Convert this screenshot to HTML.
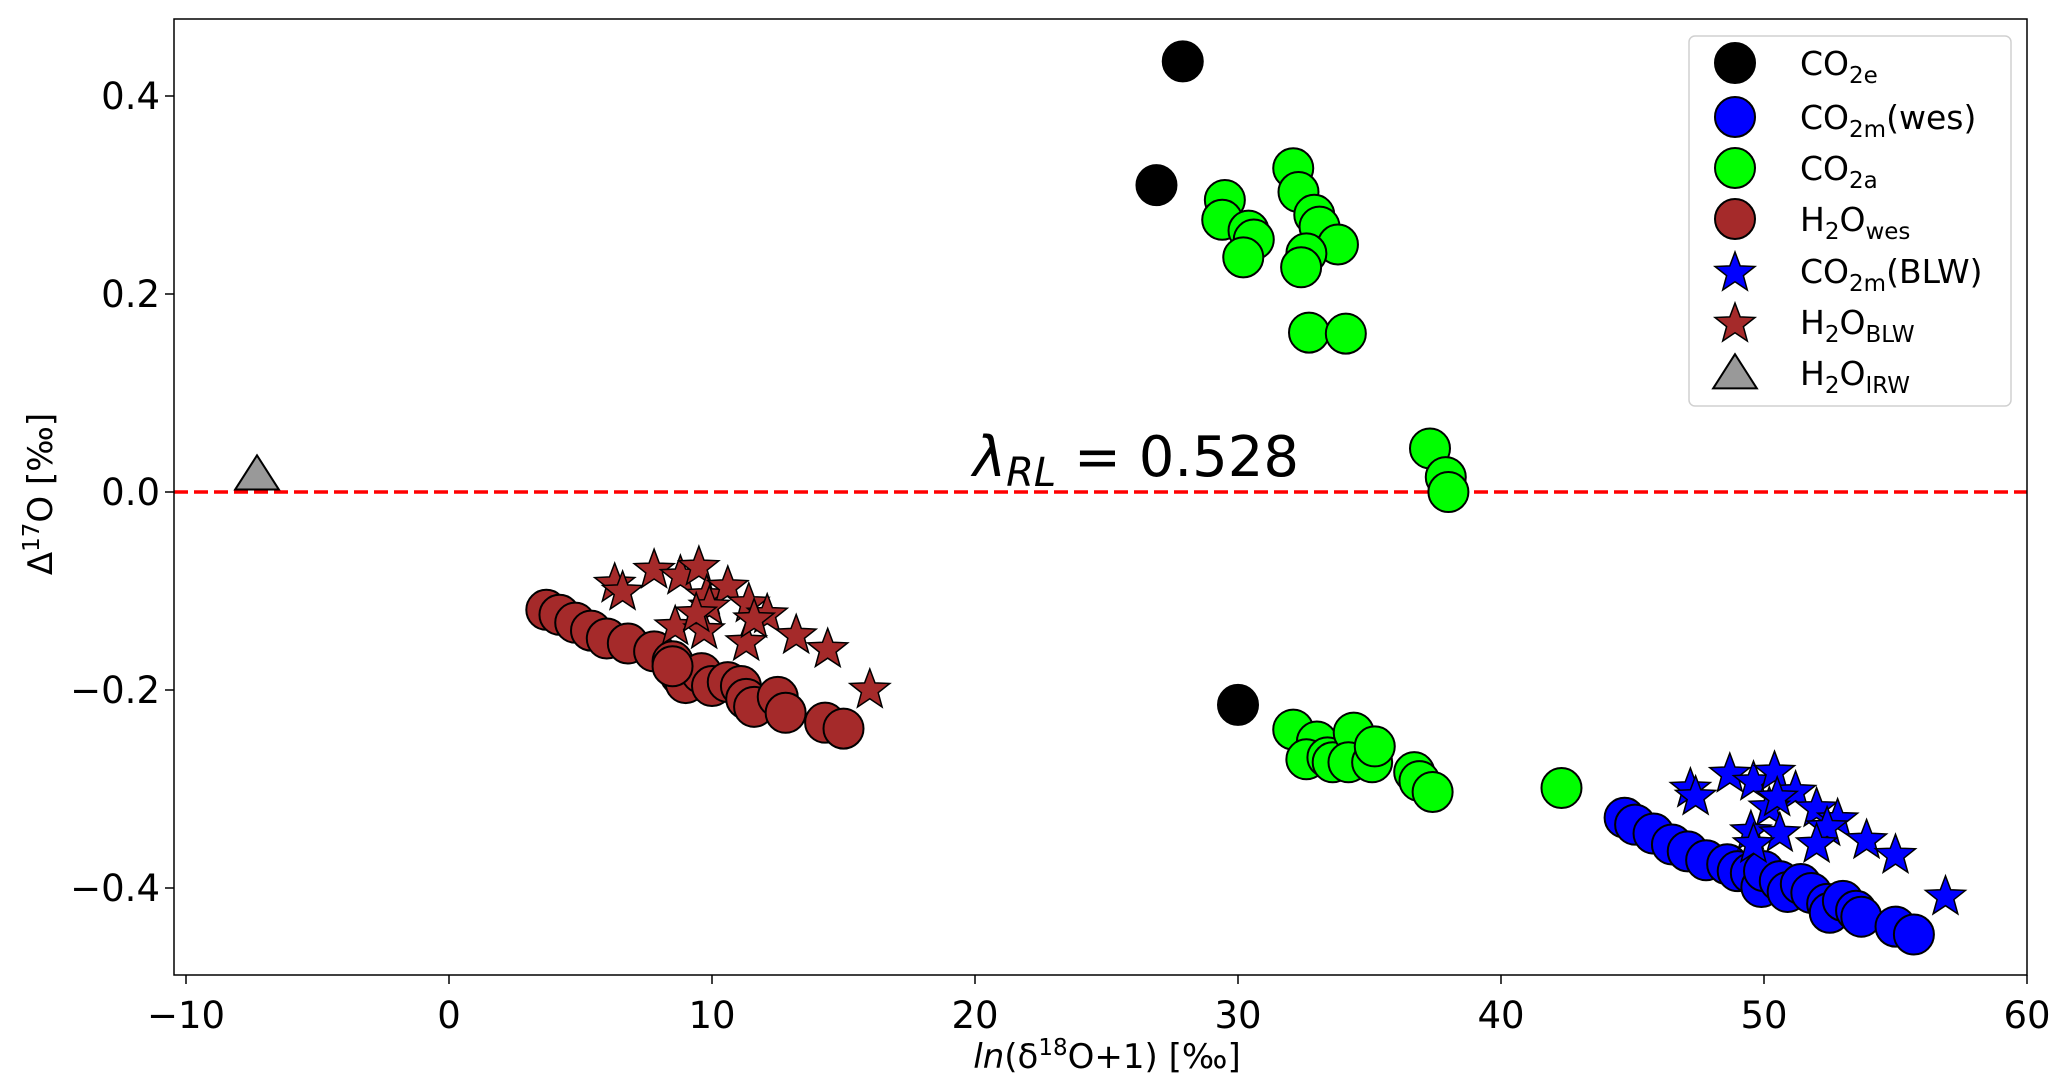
<!DOCTYPE html>
<html><head><meta charset="utf-8"><style>
html,body{margin:0;padding:0;background:#fff;}
svg{display:block;font-family:"DejaVu Sans","Liberation Sans",sans-serif;}
</style></head><body>
<svg id="chart" width="2067" height="1090" viewBox="0 0 2067 1090" xmlns="http://www.w3.org/2000/svg">
<rect x="0" y="0" width="2067" height="1090" fill="#fff"/>
<g id="marks"></g>
<g id="axes"></g>
</svg>
<script>
const xTicks=[-10,0,10,20,30,40,50,60];
const yTicks=[0.4,0.2,0.0,-0.2,-0.4];
const yTickLabels=["0.4","0.2","0.0","\u22120.2","\u22120.4"];
const xTickLabels=["\u221210","0","10","20","30","40","50","60"];
const co2eX=[27.9,26.9,30.0];
const co2eY=[0.435,0.31,-0.215];
const co2aX=[32.1,29.5,32.3,29.4,30.4,30.6,30.2,32.9,33.1,33.8,32.6,32.4,32.7,34.1,37.3,37.9,38.0,32.1,33.0,32.6,33.4,33.6,34.4,34.2,35.1,35.2,36.7,36.9,37.4,42.3];
const co2aY=[0.327,0.295,0.303,0.275,0.264,0.255,0.237,0.28,0.268,0.25,0.241,0.227,0.161,0.16,0.044,0.015,0.0,-0.24,-0.252,-0.27,-0.268,-0.273,-0.243,-0.273,-0.273,-0.257,-0.283,-0.292,-0.303,-0.299];
const co2mWesX=[44.7,45.1,45.8,46.5,47.1,47.8,48.6,49.0,49.5,49.9,50.0,50.6,50.9,51.4,51.8,52.4,52.5,53.0,53.5,53.7,55.0,55.7];
const co2mWesY=[-0.329,-0.336,-0.345,-0.356,-0.363,-0.372,-0.376,-0.383,-0.385,-0.399,-0.383,-0.393,-0.404,-0.396,-0.405,-0.416,-0.425,-0.413,-0.423,-0.429,-0.439,-0.447];
const h2oWesX=[3.7,4.2,4.8,5.4,6.0,6.8,7.8,8.5,8.8,9.0,9.6,10.0,10.6,11.1,11.3,11.6,12.5,12.8,14.3,15.0,8.5];
const h2oWesY=[-0.119,-0.124,-0.132,-0.14,-0.148,-0.153,-0.161,-0.171,-0.185,-0.193,-0.183,-0.196,-0.192,-0.196,-0.209,-0.217,-0.207,-0.223,-0.233,-0.239,-0.176];
const co2mBlwX=[47.2,47.4,48.7,49.6,50.4,51.2,50.2,50.5,52.0,52.8,52.4,49.5,50.6,52.0,53.9,55.0,56.9,49.6];
const co2mBlwY=[-0.3,-0.308,-0.285,-0.293,-0.283,-0.303,-0.319,-0.309,-0.32,-0.331,-0.339,-0.343,-0.345,-0.356,-0.352,-0.367,-0.409,-0.356];
const h2oBlwX=[6.3,6.6,7.8,8.8,9.5,9.8,10.6,9.9,11.4,12.1,8.6,9.7,11.3,13.2,14.4,16.0,11.6,9.4];
const h2oBlwY=[-0.093,-0.101,-0.079,-0.085,-0.076,-0.105,-0.096,-0.116,-0.113,-0.124,-0.136,-0.14,-0.152,-0.145,-0.159,-0.2,-0.129,-0.123];
const h2oIrwX=[-7.3];
const h2oIrwY=[0.014];
const lambdaRL=0.528;

const L=174,R=2027,T=19,B=975;
const sx=v=>449+v*26.3;
const sy=v=>492-v*990;
const NS="http://www.w3.org/2000/svg";
function mk(tag,attrs,parent){const e=document.createElementNS(NS,tag);for(const k in attrs)e.setAttribute(k,attrs[k]);parent.appendChild(e);return e;}
const marks=document.getElementById('marks');
const axes=document.getElementById('axes');

function starPts(cx,cy,r){let p=[];for(let i=0;i<10;i++){const rr=i%2?r*0.42:r;const a=-Math.PI/2+i*Math.PI/5;p.push((cx+rr*Math.cos(a)).toFixed(1)+','+(cy+rr*Math.sin(a)).toFixed(1));}return p.join(' ');}
function triPts(cx,cy,r){return [cx+','+(cy-r*1.2),(cx-r*1.15)+','+(cy+r*0.6),(cx+r*1.15)+','+(cy+r*0.6)].join(' ');}

function drawSeries(xs,ys,shape,fill,name){
  const g=mk('g',{},marks);
  
  
  xs.forEach((x,i)=>{
    const cx=sx(x),cy=sy(ys[i]);let e;
    if(shape==='c') e=mk('circle',{cx:cx,cy:cy,r:20,fill:fill,stroke:'#000','stroke-width':2},g);
    else if(shape==='s') e=mk('polygon',{points:starPts(cx,cy,21),fill:fill,stroke:'#000','stroke-width':1.5},g);
    else e=mk('polygon',{points:triPts(cx,cy,19),fill:fill,stroke:'#000','stroke-width':2},g);
    
    
  });
}
const rl=mk('line',{x1:L,x2:R,y1:sy(0),y2:sy(0),stroke:'#ff0000','stroke-width':3.4,'stroke-dasharray':'14,6'},marks);


drawSeries(h2oIrwX,h2oIrwY,'t','#999999','h2o-irw');
drawSeries(h2oWesX,h2oWesY,'c','#a52a2a','h2o-wes');
drawSeries(h2oBlwX,h2oBlwY,'s','#a52a2a','h2o-blw');
drawSeries(co2aX,co2aY,'c','#00ff00','co2a');
drawSeries(co2mWesX,co2mWesY,'c','#0000ff','co2m-wes');
drawSeries(co2mBlwX,co2mBlwY,'s','#0000ff','co2m-blw');
drawSeries(co2eX,co2eY,'c','#000000','co2e');

const lt=mk('text',{x:973,y:476,'font-size':56,fill:'#000'},marks);


lt.innerHTML='<tspan font-style="italic">λ</tspan><tspan font-style="italic" font-size="40" dy="10">RL</tspan><tspan dy="-10"> = '+lambdaRL.toFixed(3)+'</tspan>';

const fr=mk('rect',{x:L,y:T,width:R-L,height:B-T,fill:'none',stroke:'#000','stroke-width':1.5},axes);


xTicks.forEach((v,i)=>{
  const x=sx(v);
  mk('line',{x1:x,x2:x,y1:B,y2:B+9,stroke:'#000','stroke-width':1.5},axes);
  const t=mk('text',{x:x,y:1028,'font-size':37,'text-anchor':'middle',fill:'#000'},axes);
  t.textContent=xTickLabels[i];
  
  
});
yTicks.forEach((v,i)=>{
  const y=sy(v);
  mk('line',{x1:L-9,x2:L,y1:y,y2:y,stroke:'#000','stroke-width':1.5},axes);
  const t=mk('text',{x:160,y:y+13,'font-size':37,'text-anchor':'end',fill:'#000'},axes);
  t.textContent=yTickLabels[i];
  
  
});
const xt=mk('text',{x:1107,y:1068,'font-size':34,'text-anchor':'middle',fill:'#000'},axes);


xt.innerHTML='<tspan font-style="italic">ln</tspan>(δ<tspan font-size="23" dy="-13">18</tspan><tspan dy="13">O+1) [‰]</tspan>';
const yt=mk('text',{x:0,y:0,'font-size':34,'text-anchor':'middle',fill:'#000',transform:'translate(52,494) rotate(-90)'},axes);


yt.innerHTML='Δ<tspan font-size="23" dy="-13">17</tspan><tspan dy="13">O [‰]</tspan>';

const lg=mk('g',{},axes);


mk('rect',{x:1689,y:36,width:322,height:370,rx:6,fill:'#fff','fill-opacity':0.85,stroke:'#d0d0d0','stroke-width':1.5},lg);
const entries=[['c','#000000','CO','2e',''],['c','#0000ff','CO','2m','(wes)'],['c','#00ff00','CO','2a',''],['c','#a52a2a','H','2','O','wes'],['s','#0000ff','CO','2m','(BLW)'],['s','#a52a2a','H','2','O','BLW'],['t','#999999','H','2','O','IRW']];
const ey=[63,117,168,219,271,322,373];
entries.forEach((e,i)=>{
  const g=mk('g',{},lg);
  
  
  const cx=1735,cy=ey[i];
  if(e[0]==='c') mk('circle',{cx:cx,cy:cy,r:20,fill:e[1],stroke:'#000','stroke-width':2},g);
  else if(e[0]==='s') mk('polygon',{points:starPts(cx,cy+2,21),fill:e[1],stroke:'#000','stroke-width':1.5},g);
  else mk('polygon',{points:triPts(cx,cy+4,19),fill:e[1],stroke:'#000','stroke-width':2},g);
  const t=mk('text',{x:1800,y:cy+12,'font-size':33,fill:'#000'},g);
  if(e.length===6) t.innerHTML=e[2]+'<tspan font-size="23" dy="8">'+e[3]+'</tspan><tspan dy="-8">'+e[4]+'</tspan><tspan font-size="23" dy="8">'+e[5]+'</tspan>';
  else t.innerHTML=e[2]+'<tspan font-size="23" dy="8">'+e[3]+'</tspan><tspan dy="-8">'+e[4]+'</tspan>';
});
</script>
</body></html>
